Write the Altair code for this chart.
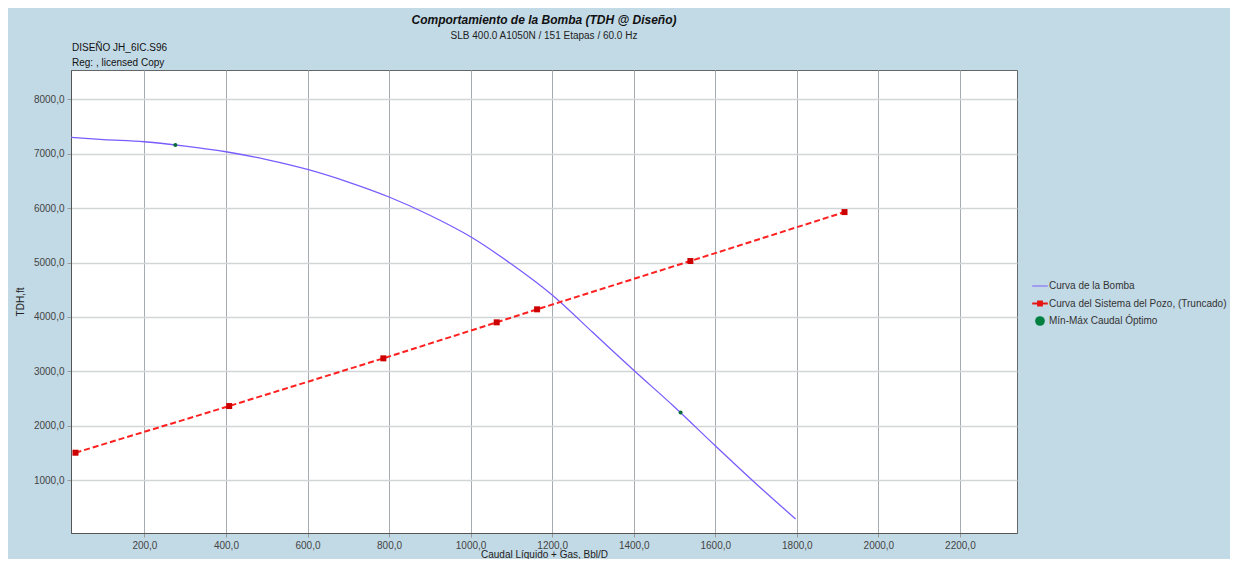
import altair as alt
import pandas as pd

FONT = "Liberation Sans"

# ---- data ----
pump_q = [20, 100, 200, 300, 400, 500, 600, 700, 800, 900, 1000, 1100, 1200, 1300, 1400, 1500, 1600, 1700, 1797]
pump_tdh = [7300, 7261, 7221, 7142, 7037, 6893, 6712, 6480, 6205, 5870, 5474, 4972, 4403, 3713, 3020, 2345, 1632, 934, 285]

sys_q = [31, 408, 786, 1064, 1163, 1539, 1917]
sys_tdh = [1504, 2362, 3239, 3901, 4140, 5028, 5928]

opt_q = [276, 1515]
opt_tdh = [7160, 2245]

series = ["Curva de la Bomba", "Curva del Sistema del Pozo, (Truncado)", "Mín-Máx Caudal Óptimo"]
series_colors = ["#7a5cff", "#e81414", "#008040"]
legend_shapes = [
    "M-1.6,-0.1H1.6V0.1H-1.6Z",
    "M-1.6,-0.2H1.6V0.2H-1.6Z M-0.6,-0.6H0.6V0.6H-0.6Z",
    "circle",
]

x_ticks = [200, 400, 600, 800, 1000, 1200, 1400, 1600, 1800, 2000, 2200]
y_ticks = [1000, 2000, 3000, 4000, 5000, 6000, 7000, 8000]
x_domain = [20, 2340]
y_domain = [28, 8540]

header_lines = ["DISEÑO JH_6IC.S96", "Reg: , licensed Copy"]

pump_df = pd.DataFrame({"q": pump_q, "t": pump_tdh})
sys_df = pd.DataFrame({"q": sys_q, "t": sys_tdh})
opt_df = pd.DataFrame({"q": opt_q, "t": opt_tdh})
legend_df = pd.DataFrame({"serie": series, "q": [None] * 3, "t": [None] * 3})

label_expr = "replace(format(datum.value, '.1f'), '.', ',')"

x_enc = alt.X(
    "q:Q",
    scale=alt.Scale(domain=x_domain, nice=False, zero=False),
    axis=alt.Axis(
        values=x_ticks, labelExpr=label_expr, title="Caudal Líquido + Gas, Bbl/D",
        grid=True, gridColor="#a6abaf", gridWidth=1,
        tickColor="#9a9a9a", tickSize=4, domainColor="#555555",
        labelColor="#444444", labelFontSize=10, labelFont=FONT, labelPadding=3,
        titleFont=FONT, titleFontSize=10, titleFontWeight="normal", titleColor="#222222",
        titlePadding=-1, labelFlush=False,
    ),
)
y_enc = alt.Y(
    "t:Q",
    scale=alt.Scale(domain=y_domain, nice=False, zero=False),
    axis=alt.Axis(
        values=y_ticks, labelExpr=label_expr, title="TDH,ft",
        grid=True, gridColor="#d2d5d7", gridWidth=1.6,
        tickColor="#9a9a9a", tickSize=4, domainColor="#555555",
        labelColor="#444444", labelFontSize=10, labelFont=FONT, labelPadding=3,
        titleFont=FONT, titleFontSize=10, titleFontWeight="normal", titleColor="#222222",
        titlePadding=8,
    ),
)

pump = alt.Chart(pump_df).mark_line(
    color=series_colors[0], strokeWidth=1.3, interpolate="monotone"
).encode(x=x_enc, y=y_enc)

sys_line = alt.Chart(sys_df).mark_line(
    color="#ff2020", strokeWidth=2, strokeDash=[6, 3]
).encode(x=x_enc, y=y_enc)

sys_pts = alt.Chart(sys_df).mark_point(
    shape="square", filled=True, size=36, color="#cc0000", opacity=1
).encode(x=x_enc, y=y_enc)

opt_pts = alt.Chart(opt_df).mark_point(
    shape="circle", filled=True, size=16, color="#0a6b3a", opacity=1
).encode(x=x_enc, y=y_enc)

leg = alt.Legend(
    title=None, orient="none", legendX=964, legendY=211, padding=0,
    symbolSize=95, symbolStrokeWidth=0, labelFont=FONT, labelFontSize=10,
    labelColor="#333333", labelOffset=4, rowPadding=7.5, labelLimit=400,
)
legend_layer = alt.Chart(legend_df).mark_point(filled=True, opacity=1).encode(
    x=x_enc, y=y_enc,
    color=alt.Color("serie:N", scale=alt.Scale(domain=series, range=series_colors), legend=leg),
    shape=alt.Shape("serie:N", scale=alt.Scale(domain=series, range=legend_shapes), legend=leg),
)

header = alt.Chart(pd.DataFrame({"k": [0]})).mark_text(
    text=header_lines, align="left", baseline="top", font=FONT, fontSize=10,
    color="#111111", lineHeight=15,
).encode(x=alt.value(1), y=alt.value(-27))

chart = alt.layer(pump, sys_line, sys_pts, opt_pts, legend_layer, header).properties(
    width=946,
    height=463,
    title=alt.TitleParams(
        text="Comportamiento de la Bomba (TDH @ Diseño)",
        subtitle="SLB 400.0 A1050N / 151 Etapas / 60.0 Hz",
        anchor="middle", frame="group", font=FONT, fontSize=12, fontStyle="italic",
        fontWeight="bold", color="#111111", subtitleFont=FONT, subtitleFontSize=10,
        subtitleColor="#222222", subtitlePadding=4, offset=1,
    ),
    autosize=alt.AutoSizeParams(type="none"),
    padding={"left": 63, "top": 62, "right": 213, "bottom": 26},
    background="#c2dae6",
).configure_view(fill="white", stroke="#666666", strokeWidth=1)

chart.save("out.html", embed_options={"renderer": "svg", "actions": False})
